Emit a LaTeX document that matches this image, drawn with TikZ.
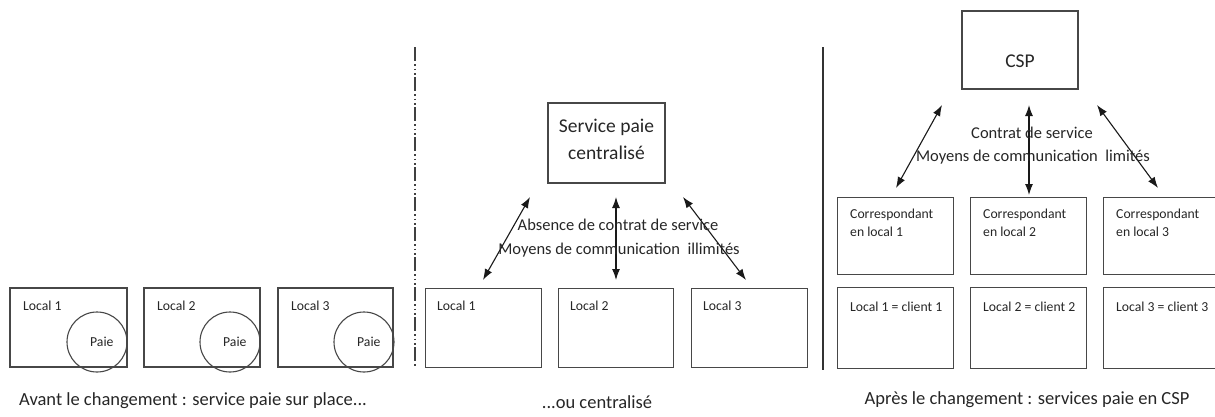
\documentclass[tikz,border=0pt]{standalone}
\usepackage{fontspec}
\setmainfont{Carlito}
\usetikzlibrary{arrows.meta}
\begin{document}
\begin{tikzpicture}[x=1pt,y=-1pt,
  box/.style={draw=black!72,line width=1.2pt,inner sep=0pt},
  lbl/.style={anchor=west,font=\fontsize{13.7}{18}\selectfont,text=black!85,inner sep=0pt},
  big/.style={font=\fontsize{16.5}{25}\selectfont,text=black!85,inner sep=0pt,align=center},
  title/.style={font=\fontsize{19.5}{27}\selectfont,text=black!85,inner sep=0pt,align=center},
  captxt/.style={font=\fontsize{18.5}{24}\selectfont,text=black!85,inner sep=0pt},
  paie/.style={draw=black!72,line width=1.1pt,circle,minimum size=60pt,inner sep=0pt},
  dbl/.style={{Latex[length=11pt,width=8pt]}-{Latex[length=11pt,width=8pt]},line width=1.1pt,black!90}]
\useasboundingbox (0,0) rectangle (1215,416);
% ---------- left section ----------
\foreach \i/\xa/\xb/\cx in {1/10/127/97,2/144/260/230,3/278/393/364}{
  \draw[box] (\xa,288) rectangle (\xb,367);
  \node[paie] (circ\i) at (\cx,342) {};
  \node[lbl] (lloc\i) at (\xa+13,306) {Local \i};
  \node[lbl] (lpaie\i) at (\cx-7,342) {Paie};
}
\node[captxt] (capA) at (193,401) {Avant le changement : service paie sur place...};
% separators
\draw[black!75,line width=1.1pt,dash pattern=on 14pt off 3pt on 1.5pt off 3pt on 1.5pt off 3pt on 1.5pt off 2.5pt] (415,47) -- (415,368);
\draw[black!80,line width=1.1pt] (823,47) -- (823,370);
% ---------- middle section ----------
\node[box,minimum width=117pt,minimum height=80pt] (central) at (606.5,143) {};
\node[title] (centraltxt) at (606.5,139) {Service paie\\centralisé};
\foreach \i/\xa/\xb in {1/425/541,2/558/673,3/691/807}{
  \node[box,minimum width={\xb-\xa},minimum height=79pt,anchor=north west] (mloc\i) at (\xa,288) {};
  \node[lbl] (mlbl\i) at (\xa+12,306) {Local \i};
}
\coordinate (ma1) at (530,197); \coordinate (mb1) at (483,280);
\coordinate (ma2) at (616,197); \coordinate (mb2) at (616,280);
\coordinate (ma3) at (683,197); \coordinate (mb3) at (746,280);
\foreach \i in {1,2,3}{\draw[dbl] (ma\i) -- (mb\i);}
\node[big] (mtxt1) at (618,225) {Absence de contrat de service};
\node[big] (mtxt2) at (619,250) {Moyens de communication \ illimités};
\node[captxt] (capB) at (597,402) {...ou centralisé};
% ---------- right section ----------
\node[box,minimum width=116pt,minimum height=78pt] (csp) at (1020,50) {};
\node[title] (csptxt) at (1020,61) {CSP};
\foreach \i/\xa/\xb in {1/837/953,2/970/1086,3/1103/1225}{
  \node[box,minimum width={\xb-\xa},minimum height=77pt,anchor=north west] (corr\i) at (\xa,197) {};
  \node[lbl,align=left,anchor=north west] (corrt\i) at (\xa+13,209) {Correspondant\\en local \i};
  \node[box,minimum width={\xb-\xa},minimum height=81pt,anchor=north west] (cli\i) at (\xa,287) {};
  \node[lbl] (clit\i) at (\xa+13,307) {Local \i{} = client \i};
}
\coordinate (ra1) at (942,105); \coordinate (rb1) at (896,188);
\coordinate (ra2) at (1029,105); \coordinate (rb2) at (1029,195);
\coordinate (ra3) at (1097,105); \coordinate (rb3) at (1158,188);
\foreach \i in {1,2,3}{\draw[dbl] (ra\i) -- (rb\i);}
\node[big] (rtxt1) at (1032,133) {Contrat de service};
\node[big] (rtxt2) at (1033,157) {Moyens de communication \ limités};
\node[captxt] (capC) at (1027,400) {Après le changement : services paie en CSP};
\end{tikzpicture}
\end{document}
